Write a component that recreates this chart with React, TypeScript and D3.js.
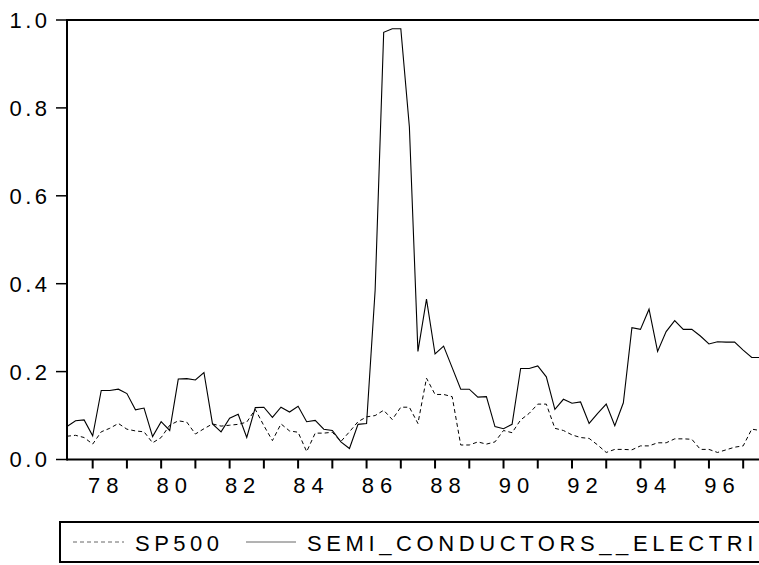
import React from "react";
import * as d3 from "d3";

const startYear = 1977.25; // 1977Q2
const sp500: number[] = [
  0.053, 0.055, 0.050, 0.035, 0.063, 0.071, 0.082, 0.069, 0.065, 0.063,
  0.038, 0.050, 0.078, 0.088, 0.085, 0.058, 0.070, 0.081, 0.076, 0.078,
  0.080, 0.085, 0.114, 0.077, 0.043, 0.081, 0.065, 0.062, 0.018, 0.060,
  0.060, 0.062, 0.041, 0.063, 0.086, 0.097, 0.100, 0.112, 0.091, 0.119,
  0.119, 0.082, 0.185, 0.148, 0.148, 0.143, 0.033, 0.033, 0.040, 0.035,
  0.040, 0.066, 0.061, 0.090, 0.105, 0.126, 0.126, 0.071, 0.066, 0.056,
  0.050, 0.048, 0.033, 0.016, 0.023, 0.023, 0.022, 0.031, 0.031, 0.038,
  0.038, 0.047, 0.047, 0.046, 0.023, 0.023, 0.016, 0.022, 0.028, 0.031,
  0.069, 0.066,
];
const semi: number[] = [
  0.075, 0.088, 0.090, 0.054, 0.157, 0.157, 0.160, 0.150, 0.113, 0.117,
  0.052, 0.086, 0.066, 0.183, 0.184, 0.181, 0.198, 0.081, 0.063, 0.094,
  0.103, 0.050, 0.118, 0.119, 0.096, 0.119, 0.108, 0.121, 0.086, 0.089,
  0.069, 0.066, 0.040, 0.025, 0.080, 0.082, 0.385, 0.972, 0.980, 0.980,
  0.757, 0.246, 0.365, 0.240, 0.258, 0.209, 0.160, 0.160, 0.142, 0.143,
  0.075, 0.070, 0.080, 0.207, 0.207, 0.213, 0.188, 0.114, 0.137, 0.128,
  0.131, 0.082, 0.105, 0.126, 0.077, 0.129, 0.300, 0.296, 0.342, 0.246,
  0.291, 0.316, 0.296, 0.296, 0.281, 0.263, 0.268, 0.267, 0.267, 0.249,
  0.232, 0.232,
];
const yTicks: number[] = [0, 0.2, 0.4, 0.6, 0.8, 1.0];
const xTickYears: number[] = [1978, 1979, 1980, 1981, 1982, 1983, 1984, 1985, 1986, 1987, 1988, 1989, 1990, 1991, 1992, 1993, 1994, 1995, 1996, 1997];
const legendLabels: string[] = ["SP500", "SEMI_CONDUCTORS__ELECTRI"];

const W = 759;
const H = 565;
const left = 67;
const top = 20;
const bottom = 459.5;
const FONT = "'Liberation Sans', Arial, sans-serif";

export default function App() {
  const x = d3.scaleLinear().domain([startYear, 1997.5]).range([left, 760.3]);
  const y = d3.scaleLinear().domain([0, 1]).range([bottom, top]);
  const t = (i: number) => startYear + i * 0.25;
  const line = d3
    .line<number>()
    .x((_, i) => x(t(i)))
    .y((d) => y(d));

  const yls = 3.5;
  const xls = 6;
  return (
    <svg
      width={W}
      height={H}
      style={{ position: "absolute", left: 0, top: 0, background: "#fff" }}
    >
      <rect x={0} y={0} width={W} height={H} fill="#fff" />
      {/* series */}
      <path d={line(sp500) || ""} fill="none" stroke="#000" strokeWidth={1} strokeDasharray="4,3" />
      <path d={line(semi) || ""} fill="none" stroke="#000" strokeWidth={1.1} />
      {/* frame */}
      <line x1={left} x2={W} y1={top} y2={top} stroke="#000" strokeWidth={2} />
      <line x1={left} x2={left} y1={top - 1} y2={bottom + 1} stroke="#000" strokeWidth={2} />
      <line x1={left} x2={W} y1={bottom} y2={bottom} stroke="#000" strokeWidth={2} />
      {/* y ticks */}
      {yTicks.map((v) => (
        <g key={v}>
          <line x1={left - 11} x2={left} y1={y(v)} y2={y(v)} stroke="#000" strokeWidth={1.5} />
          <text
            x={47 + yls}
            y={y(v)}
            dy="0.36em"
            textAnchor="end"
            fontFamily={FONT}
            fontSize={22}
            letterSpacing={yls}
            fill="#000"
          >
            {d3.format(".1f")(v)}
          </text>
        </g>
      ))}
      {/* x ticks */}
      {xTickYears.map((yr) => (
        <g key={yr}>
          <line x1={x(yr)} x2={x(yr)} y1={bottom} y2={bottom + 9} stroke="#000" strokeWidth={2} />
          {yr % 2 === 0 ? (
            <text
              x={x(yr) + 10.5 + xls / 2}
              y={493}
              textAnchor="middle"
              fontFamily={FONT}
              fontSize={22}
              letterSpacing={xls}
              fill="#000"
            >
              {String(yr).slice(2)}
            </text>
          ) : null}
        </g>
      ))}
      {/* legend */}
      <rect x={60} y={522} width={740} height={40} fill="none" stroke="#000" strokeWidth={2} />
      <line x1={73} x2={124} y1={542} y2={542} stroke="#666" strokeWidth={1} strokeDasharray="4,3" />
      <text x={135} y={550.5} fontFamily={FONT} fontSize={22} letterSpacing={4.5} fill="#000">
        {legendLabels[0]}
      </text>
      <line x1={246} x2={296} y1={542} y2={542} stroke="#666" strokeWidth={1} />
      <text x={307} y={550.5} fontFamily={FONT} fontSize={22} letterSpacing={4.6} fill="#000">
        {legendLabels[1]}
      </text>
    </svg>
  );
}
